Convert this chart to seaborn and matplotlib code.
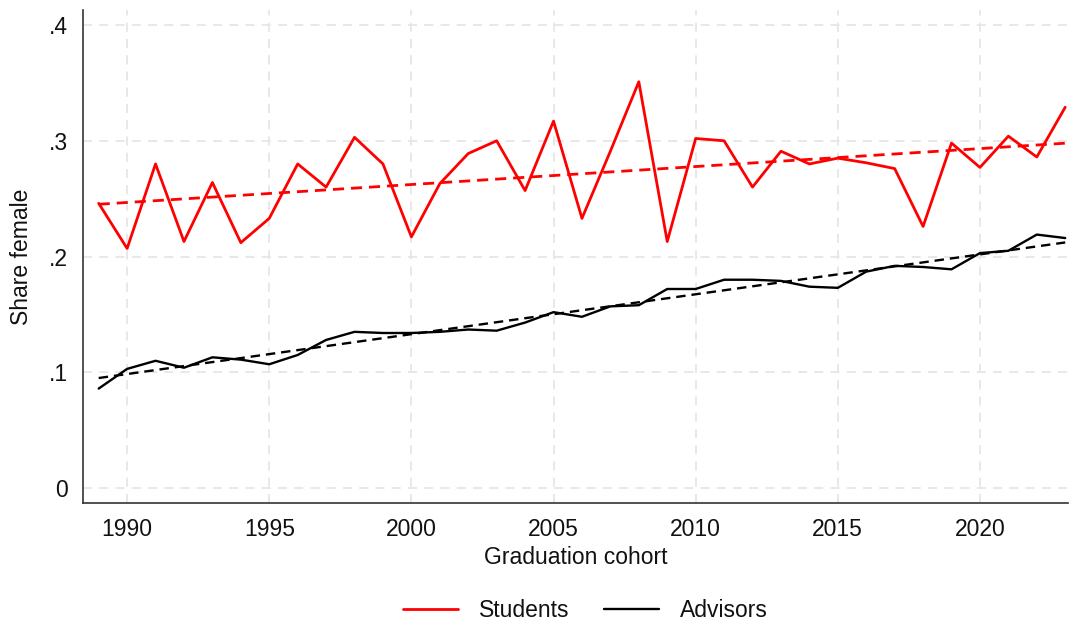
import numpy as np
import pandas as pd
import matplotlib
matplotlib.use("Agg")
import matplotlib.pyplot as plt
import seaborn as sns

# data
years = list(range(1989, 2024))

students = [
    0.246, 0.207, 0.280, 0.213, 0.264, 0.212, 0.233, 0.280, 0.260, 0.303,
    0.280, 0.217, 0.263, 0.289, 0.300, 0.257, 0.317, 0.233, 0.291, 0.351,
    0.213, 0.302, 0.300, 0.260, 0.291, 0.280, 0.285, 0.281, 0.276, 0.226,
    0.298, 0.277, 0.304, 0.286, 0.329,
]

advisors = [
    0.086, 0.103, 0.110, 0.104, 0.113, 0.111, 0.107, 0.115, 0.128, 0.135,
    0.134, 0.134, 0.135, 0.137, 0.136, 0.143, 0.152, 0.148, 0.157, 0.158,
    0.172, 0.172, 0.180, 0.180, 0.179, 0.174, 0.173, 0.187, 0.192, 0.191,
    0.189, 0.203, 0.205, 0.219, 0.216,
]

x_ticks = [1990, 1995, 2000, 2005, 2010, 2015, 2020]
y_ticks = [0, 0.1, 0.2, 0.3, 0.4]
y_tick_labels = ["0", ".1", ".2", ".3", ".4"]

df = pd.DataFrame({
    "year": years,
    "Students": students,
    "Advisors": advisors,
})

# =========================================================
# STYLE
# =========================================================

sns.set_style("white")
plt.rcParams["font.family"] = ["Liberation Sans", "DejaVu Sans"]
plt.rcParams["text.color"] = "#111111"
plt.rcParams["axes.labelcolor"] = "#111111"
plt.rcParams["xtick.labelcolor"] = "#111111"
plt.rcParams["ytick.labelcolor"] = "#111111"
fs = 16.5

fig = plt.figure(figsize=(10.73, 6.22), dpi=100)
ax = fig.add_axes([0.0774, 0.191, 0.918, 0.793])

grid_color = "#e6e6e6"
for xt in x_ticks:
    ax.axvline(xt, color=grid_color, lw=1.3, ls=(0, (5, 4)), zorder=0)
for yt in y_ticks:
    ax.axhline(yt, color=grid_color, lw=1.3, ls=(0, (5, 4)), zorder=0)

# =========================================================
# LINES + LINEAR TRENDS
# =========================================================

series = [("Students", "#ff0000", 2.0), ("Advisors", "black", 1.7)]

for name, color, lw in series:
    sns.lineplot(data=df, x="year", y=name, color=color, lw=lw,
                 ax=ax, label=name, zorder=3)
    sns.regplot(data=df, x="year", y=name, scatter=False, ci=None,
                ax=ax, color=color,
                line_kws={"lw": lw, "ls": (0, (4, 2.5)), "zorder": 2})

ax.set_xlim(1988.45, 2023.1)
ax.set_ylim(-0.013, 0.413)

ax.set_xticks(x_ticks)
ax.set_yticks(y_ticks)
ax.set_yticklabels(y_tick_labels)

ax.tick_params(axis="both", direction="out", length=6, width=1.2,
               color="#333333", labelsize=fs, pad=5)

for side in ["top", "right"]:
    ax.spines[side].set_visible(False)
for side in ["left", "bottom"]:
    ax.spines[side].set_color("#333333")
    ax.spines[side].set_linewidth(1.2)

ax.set_xlabel("Graduation cohort", fontsize=fs, labelpad=3)
ax.set_ylabel("Share female", fontsize=fs, labelpad=11)

h, l = ax.get_legend_handles_labels()
ax.legend(h[:2], l[:2], loc="upper center", bbox_to_anchor=(0.51, -0.152),
          ncol=2, frameon=False, fontsize=fs, handlelength=2.4,
          columnspacing=1.5, handletextpad=0.9)

fig.savefig("out.png", dpi=100)
